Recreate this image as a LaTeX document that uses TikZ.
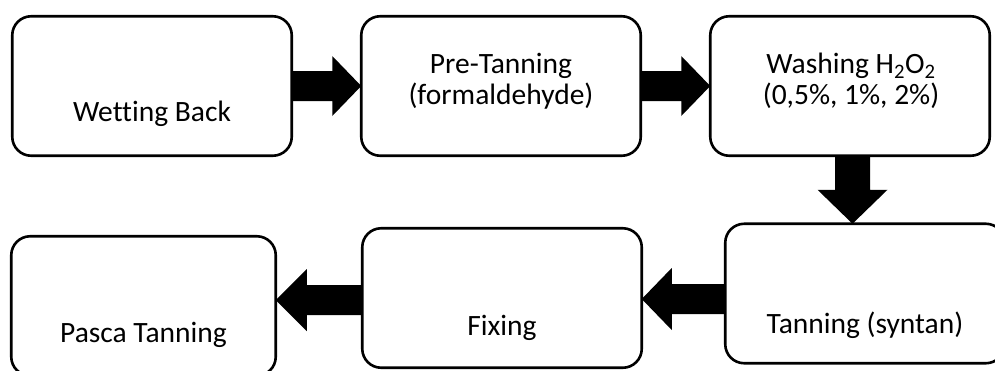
\documentclass[tikz,border=0pt]{standalone}
\usepackage{fontspec}
\setmainfont{Carlito}[Ligatures=NoCommon]
\usetikzlibrary{calc}
\begin{document}
\begin{tikzpicture}[x=1pt,y=-1pt,
  stepbox/.style={draw=black,line width=2.6pt,rounded corners=19pt,minimum width=279.5pt,minimum height=139.5pt,inner sep=0pt,outer sep=0pt},
  lbl/.style={font=\fontsize{29.5}{30.5}\selectfont,align=center,inner sep=0pt,anchor=base},
  blk/.style={fill=black,draw=none}]
\useasboundingbox (0,0) rectangle (995,370);
\fill[white] (0,0) rectangle (995,370);
\node[stepbox] (b1) at (152,86) {};
\node[stepbox] (b2) at (501,86) {};
\node[stepbox] (b3) at (850,86) {};
\node[stepbox] (b4) at (865,293.5) {};
\node[stepbox] (b5) at (502,298) {};
\node[stepbox,minimum width=264.5pt] (b6) at (143.5,306) {};
\node[lbl] (t1) at (152,121) {Wetting Back};
\node[lbl] (t2) at (501,104) {Pre-Tanning\\(formaldehyde)};
\node[lbl] (t3) at (851,104) {Washing H\textsubscript{2}O\textsubscript{2}\\(0,5\%, 1\%, 2\%)};
\node[lbl] (t4) at (865,333) {Tanning (syntan)};
\node[lbl] (t5) at (502,335) {Fixing};
\node[lbl] (t6) at (143.5,342) {Pasca Tanning};
% right arrows
\path[blk] let \p1=(b1.east), \p2=(b2.west) in
  (\x1,\y1+15pt) -- (\x2-29pt,\y1+15pt) -- (\x2-29pt,\y1+30pt) -- (\x2,\y1)
  -- (\x2-29pt,\y1-30pt) -- (\x2-29pt,\y1-15pt) -- (\x1,\y1-15pt) -- cycle;
\path[blk] let \p1=(b2.east), \p2=(b3.west) in
  (\x1,\y1+15pt) -- (\x2-29pt,\y1+15pt) -- (\x2-29pt,\y1+30pt) -- (\x2,\y1)
  -- (\x2-29pt,\y1-30pt) -- (\x2-29pt,\y1-15pt) -- (\x1,\y1-15pt) -- cycle;
% down arrow
\path[blk] let \p1=(b3.south), \p2=(b4.north) in
  (\x1-15pt,\y1) -- (\x1-15pt,\y2+34pt) -- (\x1-32.5pt,\y2+34pt) -- (\x1+2.5pt,\y2)
  -- (\x1+37.5pt,\y2+34pt) -- (\x1+20pt,\y2+34pt) -- (\x1+20pt,\y1) -- cycle;
% left arrows
\path[blk] let \p1=(b4.west), \p2=(b5.east) in
  (\x1,-284pt) -- (\x2+30pt,-284pt) -- (\x2+30pt,-268pt) -- (\x2,-299pt)
  -- (\x2+30pt,-330pt) -- (\x2+30pt,-314pt) -- (\x1,-314pt) -- cycle;
\path[blk] let \p1=(b5.west), \p2=(b6.east) in
  (\x1,-285pt) -- (\x2+31pt,-285pt) -- (\x2+31pt,-269pt) -- (\x2,-300pt)
  -- (\x2+31pt,-331pt) -- (\x2+31pt,-315pt) -- (\x1,-315pt) -- cycle;
\end{tikzpicture}
\end{document}
